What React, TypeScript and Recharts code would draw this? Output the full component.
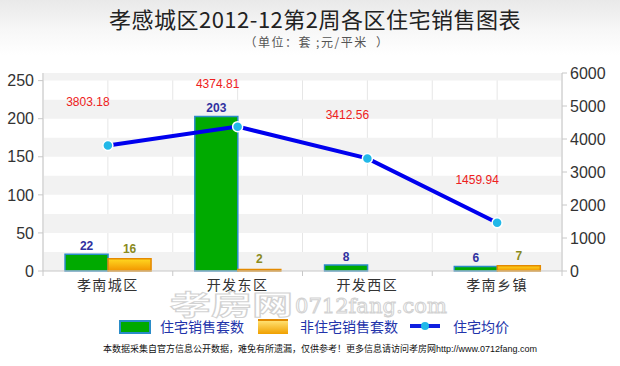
import React from "react";
import {
  Bar,
  CartesianGrid,
  ComposedChart,
  LabelList,
  Line,
  ReferenceArea,
  XAxis,
  YAxis,
} from "recharts";

const categories = ["孝南城区", "开发东区", "开发西区", "孝南乡镇"];
const residentialSales = [22, 203, 8, 6];
const nonResidentialSales = [16, 2, 0, 7];
const avgPrice = [3803.18, 4374.81, 3412.56, 1459.94];
const leftTicks = [0, 50, 100, 150, 200, 250];
const rightTicks = [0, 1000, 2000, 3000, 4000, 5000, 6000];
const bandStarts = [0, 50, 100, 150, 200, 250];

const data = categories.map((name, i) => ({
  name,
  res: residentialSales[i],
  nonRes: nonResidentialSales[i],
  price: avgPrice[i],
}));

const CJK = '"Noto Sans CJK SC", "Noto Sans", sans-serif';
const NUM = '"Liberation Sans", Arial, sans-serif';

function CategoryTick(props: any) {
  const { x, y, payload, index, visibleTicksCount } = props;
  const half = payload?.offset ?? 0;
  const last = index === visibleTicksCount - 1;
  return (
    <g>
      <line x1={x - half} x2={x - half} y1={y - 7} y2={y - 2} stroke="#c8c8c8" />
      {last && <line x1={x + half} x2={x + half} y1={y - 7} y2={y - 2} stroke="#c8c8c8" />}
      <text x={x} y={y + 12} textAnchor="middle" fill="#333" fontSize={14} fontFamily={CJK} letterSpacing={1.5}>
        {payload.value}
      </text>
    </g>
  );
}

function PriceLabel(props: any) {
  const { x, y, value } = props;
  return (
    <text x={x - 20} y={y - 39} textAnchor="middle" fill="#ee2020" fontSize={12} fontFamily={NUM}>
      {Number(value).toFixed(2)}
    </text>
  );
}

export default function App() {
  return (
    <div
      style={{
        position: "relative",
        width: 620,
        height: 366,
        overflow: "hidden",
        background: "linear-gradient(#e9e9e9 0px, #f7f7f7 30px, #ffffff 55px)",
        fontFamily: CJK,
      }}
    >
      <style>{`body{margin:0}`}</style>
      <svg style={{ position: "absolute", top: 0, left: 0 }} width={620} height={60}>
        <text x={315} y={28} textAnchor="middle" fontSize={22} fill="#222" fontFamily={CJK} letterSpacing={0.5}>
          孝感城区2012-12第2周各区住宅销售图表
        </text>
        <text x={317} y={47} textAnchor="middle" fontSize={12} fill="#555" fontFamily={CJK} letterSpacing={1.5}>
          （单位：套 ;元/平米 {"\u00a0"}）
        </text>
      </svg>

      <div style={{ position: "absolute", top: 0, left: 0 }}>
        <ComposedChart
          width={620}
          height={366}
          data={data}
          margin={{ top: 73, right: 0, bottom: 71, left: 0 }}
          barCategoryGap="17%"
          barGap={0}
        >
          <defs>
            <linearGradient id="orangeFill" x1="0" y1="0" x2="0" y2="1">
              <stop offset="0%" stopColor="#ffd820" />
              <stop offset="100%" stopColor="#f29400" />
            </linearGradient>
          </defs>
          {bandStarts.map((s) => (
            <ReferenceArea
              key={s}
              yAxisId="left"
              y1={s}
              y2={Math.min(s + 25, 260)}
              fill="#f2f2f2"
              fillOpacity={1}
              stroke="none"
            />
          ))}
          <CartesianGrid
            horizontal={false}
            stroke="#e6e6e6"
            verticalCoordinatesGenerator={({ offset }: any) =>
              Array.from({ length: 9 }, (_, i) => offset.left + (i * offset.width) / 8)
            }
          />
          <XAxis
            dataKey="name"
            axisLine={{ stroke: "#c8c8c8" }}
            tickLine={false}
            tickSize={0}
            tickMargin={7}
            height={24}
            interval={0}
            tick={<CategoryTick />}
          />
          <YAxis
            yAxisId="left"
            domain={[0, 260]}
            ticks={leftTicks}
            width={43}
            axisLine={{ stroke: "#c8c8c8" }}
            tickLine={{ stroke: "#c8c8c8" }}
            tickSize={5}
            tickMargin={4}
            tick={{ fill: "#333", fontSize: 16, fontFamily: NUM }}
          />
          <YAxis
            yAxisId="right"
            orientation="right"
            domain={[0, 6000]}
            ticks={rightTicks}
            width={58}
            axisLine={{ stroke: "#c8c8c8" }}
            tickLine={{ stroke: "#c8c8c8" }}
            tickSize={5}
            tickMargin={3}
            tick={{ fill: "#333", fontSize: 16, fontFamily: NUM }}
          />
          <Bar
            yAxisId="left"
            dataKey="res"
            fill="#00aa00"
            stroke="#2a8cc8"
            strokeWidth={1.5}
            isAnimationActive={false}
          >
            <LabelList dataKey="res" position="top" offset={4} fill="#3030a0" fontSize={12} fontWeight="bold" fontFamily={NUM} />
          </Bar>
          <Bar
            yAxisId="left"
            dataKey="nonRes"
            fill="url(#orangeFill)"
            stroke="#e48a00"
            strokeWidth={1.5}
            isAnimationActive={false}
          >
            <LabelList dataKey="nonRes" position="top" offset={6} fill="#8a8a20" fontSize={12} fontWeight="bold" fontFamily={NUM} />
          </Bar>
          <Line
            yAxisId="right"
            dataKey="price"
            stroke="#0000ee"
            strokeWidth={4}
            dot={{ r: 5, fill: "#22b8e8", stroke: "#ffffff", strokeWidth: 1.5 }}
            activeDot={false}
            isAnimationActive={false}
          >
            <LabelList dataKey="price" content={<PriceLabel />} />
          </Line>
        </ComposedChart>
      </div>

      {/* watermark */}
      <svg style={{ position: "absolute", top: 0, left: 0 }} width={620} height={366}>
        <g fill="rgba(255,255,255,0.75)" stroke="#d2d2d2" strokeWidth={1}>
          <text
            x={170}
            y={315}
            fontSize={27}
            fontWeight="bold"
            fontFamily={CJK}
            textLength={123}
            lengthAdjust="spacingAndGlyphs"
          >
            孝房网
          </text>
          <text
            x={295}
            y={313}
            fontSize={20}
            fontFamily='"DejaVu Serif", serif'
            textLength={152}
            lengthAdjust="spacingAndGlyphs"
          >
            0712fang.com
          </text>
        </g>
      </svg>

      <div
        style={{
          position: "absolute",
          top: 316,
          left: 0,
          width: 620,
          height: 20,
          fontSize: 14,
          color: "#2233aa",
          lineHeight: "20px",
        }}
      >
        <span style={{ position: "absolute", left: 119, top: 4, width: 28, height: 10, background: "#00aa00", border: "2px solid #2a8cc8" }} />
        <span style={{ position: "absolute", left: 160, top: 0 }}>住宅销售套数</span>
        <span
          style={{
            position: "absolute",
            left: 258,
            top: 3,
            width: 30,
            height: 13,
            background: "linear-gradient(#ffe070, #f0a000)",
            borderTop: "2px solid #e08800",
          }}
        />
        <span style={{ position: "absolute", left: 300, top: 0 }}>非住宅销售套数</span>
        <span style={{ position: "absolute", left: 410, top: 8, width: 30, height: 4, background: "#1020e0" }} />
        <span style={{ position: "absolute", left: 421, top: 6, width: 8, height: 8, borderRadius: 4, background: "#22b8e8" }} />
        <span style={{ position: "absolute", left: 453, top: 0 }}>住宅均价</span>
      </div>

      <div
        style={{
          position: "absolute",
          top: 343,
          left: 0,
          width: 640,
          textAlign: "center",
          fontSize: 9,
          color: "#111",
          lineHeight: "12px",
          whiteSpace: "nowrap",
        }}
      >
        本数据采集自官方信息公开数据，难免有所遗漏，仅供参考！更多信息请访问孝房网
        <span style={{ fontFamily: NUM }}>http://www.0712fang.com</span>
      </div>
    </div>
  );
}
